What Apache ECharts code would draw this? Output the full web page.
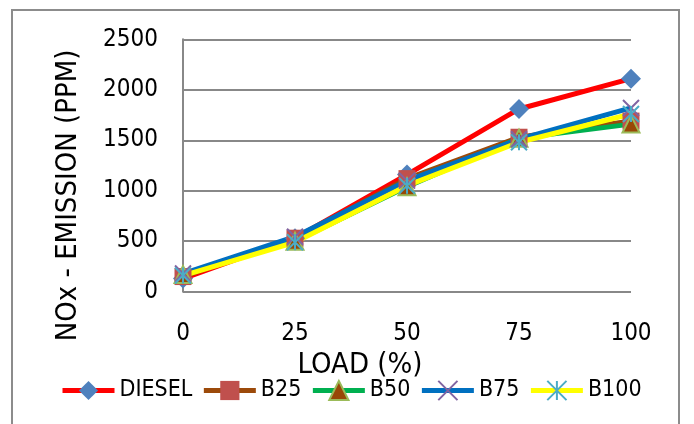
<!DOCTYPE html>
<html>
<head>
<meta charset="utf-8">
<script src="https://cdn.jsdelivr.net/npm/echarts@6/dist/echarts.min.js"></script>
<style>
html,body{margin:0;padding:0;background:#fff;}
#c{width:694px;height:424px;}
</style>
</head>
<body>
<div id="c"></div>
<script>
var loads = [0, 25, 50, 75, 100];
var yTicks = [0, 500, 1000, 1500, 2000, 2500];
var seriesNames = ['DIESEL', 'B25', 'B50', 'B75', 'B100'];
var diesel = [130, 530, 1160, 1810, 2110];
var b25 = [150, 530, 1120, 1530, 1690];
var b50 = [170, 500, 1040, 1520, 1660];
var b75 = [180, 545, 1100, 1510, 1820];
var b100 = [160, 490, 1050, 1480, 1760];

var FONT = "'Liberation Sans Narrow','DejaVu Sans Condensed','Liberation Sans',sans-serif";

function pairs(vals) {
  return loads.map(function (x, i) { return [x, vals[i]]; });
}

var X_PATH = 'path://M0,0L10,10M10,0L0,10';
var AST_PATH = 'path://M0,0L10,10M10,0L0,10M5,0L5,10';

var styles = [
  { data: diesel, line: '#FF0000', symbol: 'diamond', size: 20, fill: '#4F81BD', border: '#4F81BD', bw: 0 },
  { data: b25, line: '#9C4A0A', symbol: 'rect', size: 17, fill: '#C0504D', border: '#C0504D', bw: 0 },
  { data: b50, line: '#00B050', symbol: 'triangle', size: 17, fill: '#984807', border: '#9BBB59', bw: 2 },
  { data: b75, line: '#0070C0', symbol: X_PATH, size: 16, fill: '#8064A2', border: '#8064A2', bw: 2 },
  { data: b100, line: '#FFFF00', symbol: AST_PATH, size: 16, fill: '#4BACC6', border: '#4BACC6', bw: 2 }
];

var series = styles.map(function (s, i) {
  return {
    name: seriesNames[i],
    type: 'line',
    data: pairs(s.data),
    symbol: s.symbol,
    symbolSize: s.size,
    showSymbol: true,
    lineStyle: { color: s.line, width: 5 },
    itemStyle: { color: s.fill, borderColor: s.border, borderWidth: s.bw },
    emphasis: { disabled: true }
  };
});

var chart = echarts.init(document.getElementById('c'), null, { renderer: 'canvas' });
chart.setOption({
  animation: false,
  backgroundColor: '#ffffff',
  textStyle: { fontFamily: FONT },
  graphic: [{
    type: 'rect',
    shape: { x: 12, y: 10, width: 667, height: 440 },
    style: { fill: 'none', stroke: '#8C8C8C', lineWidth: 2 },
    silent: true
  }],
  grid: { left: 183, right: 63, top: 39.3, bottom: 132.3, containLabel: false },
  legend: {
    data: seriesNames,
    left: 55,
    top: 374,
    itemWidth: 52,
    itemHeight: 24,
    itemGap: 9,
    lineStyle: { width: 5 },
    textStyle: { fontFamily: FONT, fontSize: 23, color: '#000' }
  },
  xAxis: {
    type: 'value',
    min: 0,
    max: 100,
    interval: 25,
    name: 'LOAD (%)',
    nameLocation: 'middle',
    nameGap: 54,
    nameTextStyle: { fontFamily: FONT, fontSize: 29, color: '#000', padding: [0, 94, 0, 0] },
    axisLine: { show: false },
    axisTick: { show: false },
    splitLine: { show: false },
    axisLabel: { fontFamily: FONT, fontSize: 24, color: '#000', margin: 30,
      formatter: function (v) { return loads.indexOf(v) >= 0 ? String(v) : ''; } }
  },
  yAxis: {
    type: 'value',
    min: 0,
    max: 2500,
    interval: 500,
    name: 'NOx - EMISSION (PPM)',
    nameLocation: 'middle',
    nameGap: 100,
    nameTextStyle: { fontFamily: FONT, fontSize: 29, color: '#000', padding: [0, 60, 0, 0] },
    axisLine: { show: true, lineStyle: { color: '#888888', width: 2 } },
    axisTick: { show: false },
    splitLine: { show: true, lineStyle: { color: '#888888', width: 2 } },
    axisLabel: { fontFamily: FONT, fontSize: 24, color: '#000', margin: 25,
      formatter: function (v) { return yTicks.indexOf(v) >= 0 ? String(v) : ''; } }
  },
  series: series
});
</script>
</body>
</html>
